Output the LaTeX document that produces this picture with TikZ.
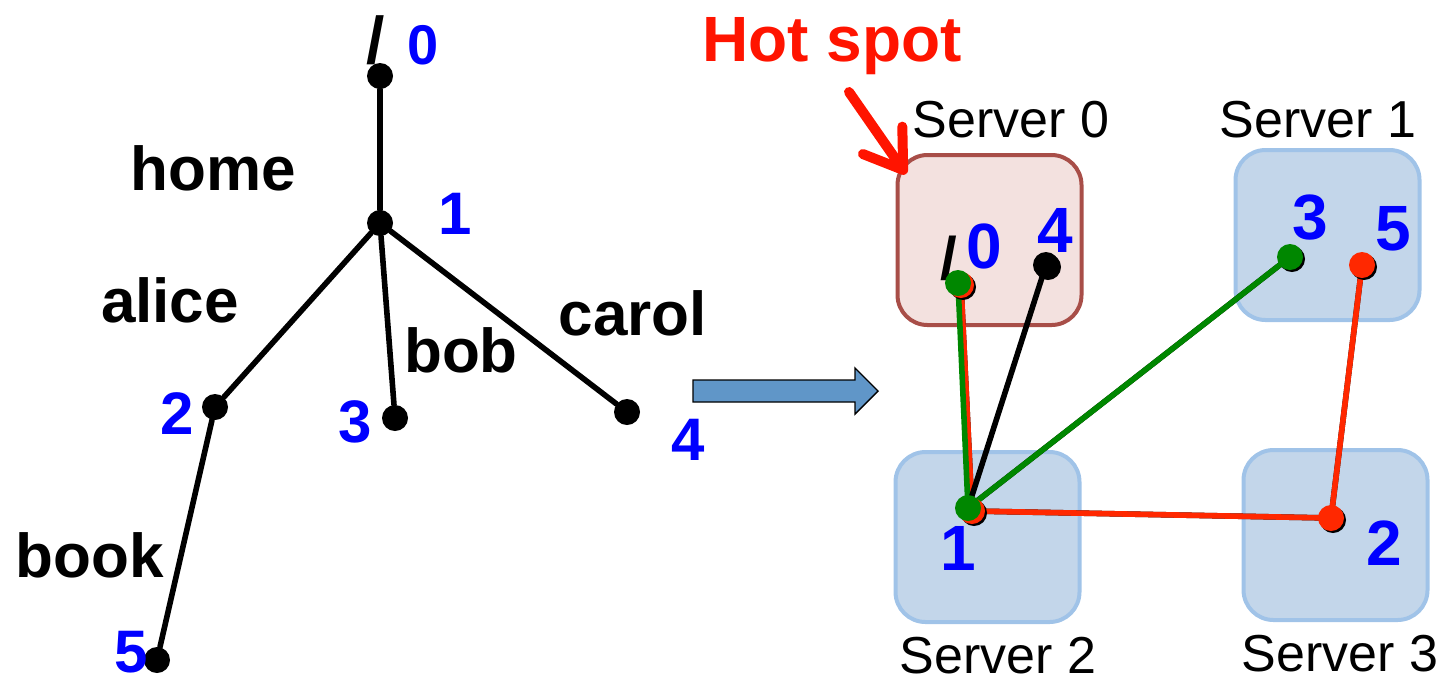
\documentclass[tikz,border=0pt]{standalone}
\usepackage{fontspec}
\setmainfont{Liberation Sans}
\usetikzlibrary{arrows.meta}
\definecolor{numblue}{RGB}{0,0,255}
\definecolor{hotred}{RGB}{255,20,0}
\definecolor{lred}{RGB}{255,40,0}
\definecolor{lgreen}{RGB}{0,135,0}
\definecolor{pinkfill}{RGB}{243,225,223}
\definecolor{pinkdraw}{RGB}{168,78,72}
\definecolor{bluefill}{RGB}{195,214,234}
\definecolor{bluedraw}{RGB}{160,195,232}
\definecolor{arrowfill}{RGB}{96,150,200}
\begin{document}
\begin{tikzpicture}[x=0.5pt,y=-0.5pt,
  dot/.style={circle, fill=#1, inner sep=0pt, minimum size=13pt},
  dot/.default=black,
  shade/.style={circle, fill=black, inner sep=0pt, minimum size=13pt},
  edge/.style={line width=2.8pt, line cap=round},
  lbl/.style={font=\fontsize{31}{31}\selectfont\bfseries, inner sep=0pt},
  num/.style={font=\fontsize{30}{30}\selectfont\bfseries, text=numblue, inner sep=0pt},
  snum/.style={font=\fontsize{32}{32}\selectfont\bfseries, text=numblue, inner sep=0pt},
  srv/.style={font=\fontsize{26}{26}\selectfont, inner sep=0pt},
  box/.style={rounded corners=15pt, line width=2pt, minimum width=92pt, minimum height=85pt, inner sep=0pt}
]
\useasboundingbox (0,0) rectangle (1443,682);

% ---------- tree ----------
\node[dot] (t0) at (380,76) {};
\node[dot] (t1) at (380,223) {};
\node[dot] (t2) at (215,407) {};
\node[dot] (t3) at (395,418) {};
\node[dot] (t4) at (627,412) {};
\node[dot] (t5) at (157,660) {};
\draw[edge] (t0) -- (t1);
\draw[edge] (t1) -- (t2);
\draw[edge] (t1) -- (t3);
\draw[edge] (t1) -- (t4);
\draw[edge] (t2) -- (t5);

\node[lbl, font=\fontsize{33}{33}\selectfont\bfseries] (sl) at (376,40) {/};
\node[num, font=\fontsize{28}{28}\selectfont\bfseries] (l0) at (423,45) {0};
\node[lbl] (home) at (213,168) {home};
\node[num] (l1) at (455,214) {1};
\node[lbl] (alice) at (170,300) {alice};
\node[lbl] (bob) at (461,350) {bob};
\node[lbl] (carol) at (633,313) {carol};
\node[num] (l2) at (177,414) {2};
\node[num] (l3) at (355,422) {3};
\node[num] (l4) at (688,440) {4};
\node[lbl] (book) at (90,555) {book};
\node[num] (l5) at (131,652) {5};

% ---------- block arrow ----------
\filldraw[fill=arrowfill, draw=black, line width=0.7pt]
  (693,380) -- (855,380) -- (855,368) -- (878,391) -- (855,414) -- (855,402) -- (693,402) -- cycle;

% ---------- servers ----------
\node[box, fill=pinkfill, draw=pinkdraw] (s0) at (989.5,240) {};
\node[box, fill=bluefill, draw=bluedraw] (s1) at (1327.5,235) {};
\node[box, fill=bluefill, draw=bluedraw] (s2) at (987.5,537) {};
\node[box, fill=bluefill, draw=bluedraw] (s3) at (1335.5,535) {};

\node[srv] (s0l) at (1011,120) {Server 0};
\node[srv] (s1l) at (1318,120) {Server 1};
\node[srv] (s2l) at (998,656) {Server 2};
\node[srv] (s3l) at (1340,654) {Server 3};

% hot spot
\node[font=\fontsize{32}{32}\selectfont\bfseries, text=hotred, inner sep=0pt] (hot) at (832,46) {Hot spot};
\coordinate (hs) at (849,92);
\coordinate (ht) at (906,174);
\draw[hotred, line width=5pt, line cap=round,
  -{Straight Barb[length=18pt, width=24pt, round, line width=5pt]}] (hs) -- (ht);

% server labels
\node[lbl, font=\fontsize{30}{30}\selectfont\bfseries] (m0s) at (949,258) {/};
\node[snum] (m0) at (984,246) {0};
\node[snum] (m4) at (1055,230) {4};
\node[snum] (m3) at (1310,218) {3};
\node[snum] (m5) at (1393,229) {5};
\node[snum] (m1) at (958,548) {1};
\node[snum] (m2) at (1384,543) {2};

% server dot positions
\coordinate (d0r) at (961,285);
\coordinate (d0) at (958,283);
\coordinate (d4) at (1046,265);
\coordinate (d1r) at (972,511);
\coordinate (d1) at (968,508);
\coordinate (d3) at (1290,257);
\coordinate (d5) at (1362,265);
\coordinate (d2) at (1331,518);

% connectors (with slight dark shadow)
\begin{scope}[shift={(1.5,1.5)}]
\draw[edge, black] (d0r) -- (d1r);
\draw[edge, black] (d1r) -- (d2);
\draw[edge, black] (d2) -- (d5);
\draw[edge, black] (d1) -- (d3);
\end{scope}
\draw[edge, lred] (d0r) -- (d1r);
\draw[edge, lgreen] (d0) -- (d1);
\draw[edge] (d1) -- (d4);
\draw[edge, lgreen] (d1) -- (d3);
\draw[edge, lred] (d1r) -- (d2);
\draw[edge, lred] (d2) -- (d5);

% dots with shadow
\foreach \p in {d0r,d4,d1r,d3,d5,d2}{
  \node[shade] at ([shift={(2,2)}]\p) {};
}
\node[dot=lred] (n0r) at (d0r) {};
\node[dot=lgreen] (n0) at (d0) {};
\node[dot] (n4) at (d4) {};
\node[dot=lred] (n1r) at (d1r) {};
\node[dot=lgreen] (n1) at (d1) {};
\node[dot=lgreen] (n3) at (d3) {};
\node[dot=lred] (n5) at (d5) {};
\node[dot=lred] (n2) at (d2) {};
\end{tikzpicture}
\end{document}
